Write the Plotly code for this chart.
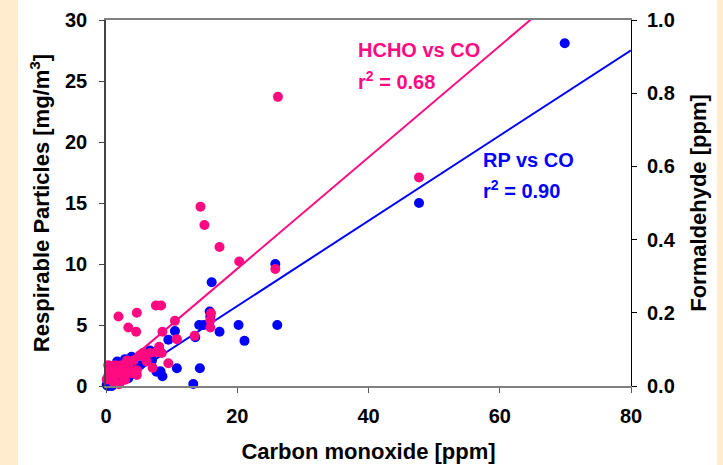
import plotly.graph_objects as go

# Carbon monoxide [ppm] vs respirable particles [mg/m3] (left axis)
rp_co = [0.1, 0.3, 0.6, 0.9, 1.1, 1.4, 1.9, 2.2, 2.6, 2.9, 3.4, 3.7, 3.9, 4.6, 5.2,
         5.6, 6.7, 7.0, 7.5, 7.7, 8.3, 8.6, 9.5, 10.5, 10.8, 13.3, 13.6, 14.2, 14.3,
         14.9, 15.8, 15.9, 16.1, 17.3, 20.2, 21.1, 25.8, 26.1, 47.7, 69.9,
         0.5, 1.5, 2.0, 1.7]
rp_val = [0.1, 0.0, 0.05, 0.0, 0.2, 0.55, 0.2, 1.9, 1.1, 2.2, 0.63, 0.9, 2.4, 1.37, 1.7,
          2.5, 2.9, 2.1, 2.8, 1.17, 1.2, 0.8, 3.8, 4.5, 1.45, 0.16, 4.0, 5.0, 1.45,
          5.0, 6.1, 5.7, 8.5, 4.45, 5.0, 3.7, 10.0, 5.0, 15.0, 28.1,
          0.3, 0.8, 1.3, 2.0]

# Carbon monoxide [ppm] vs formaldehyde [ppm] (right axis)
hcho_co = [1.9, 3.4, 4.6, 4.7, 7.6, 8.4, 10.5, 8.6, 10.8, 13.5, 16.0, 15.9, 15.9,
           20.3, 9.5, 7.1, 8.1, 7.7, 8.5, 6.7, 5.6, 5.1, 4.2, 3.2, 3.1, 1.4, 0.35,
           0.9, 0.35, 0.1, 1.6, 2.1, 2.9, 3.9, 4.7, 4.7, 2.9, 1.1, 2.0, 3.4, 2.4,
           6.2, 14.4, 15.0, 17.3, 25.8, 26.2, 47.7, 0.6, 1.2]
hcho_val = [0.190, 0.160, 0.148, 0.200, 0.220, 0.220, 0.178, 0.148, 0.128, 0.137,
            0.199, 0.180, 0.160, 0.340, 0.062, 0.050, 0.107, 0.093, 0.090, 0.090,
            0.090, 0.083, 0.070, 0.070, 0.048, 0.057, 0.057, 0.048, 0.027, 0.018,
            0.030, 0.039, 0.030, 0.035, 0.030, 0.043, 0.017, 0.012, 0.005, 0.053,
            0.057, 0.067, 0.490, 0.440, 0.380, 0.320, 0.790, 0.570, 0.035, 0.025]

# Linear fits
rp_slope, rp_intercept, rp_r2 = 0.3495, -0.44, 0.90
hcho_slope, hcho_intercept, hcho_r2 = 0.01522, 0.016, 0.68
fit_x = [0, 80]

x_ticks = [0, 20, 40, 60, 80]
left_ticks = [0, 5, 10, 15, 20, 25, 30]
right_ticks = [0.0, 0.2, 0.4, 0.6, 0.8, 1.0]

BLUE = "#0000FF"
PINK = "#FF0A80"
FONT = "Liberation Sans, Arial, sans-serif"

fig = go.Figure()

fig.add_trace(go.Scatter(
    x=fit_x, y=[rp_intercept + rp_slope * v for v in fit_x],
    mode="lines", line=dict(color=BLUE, width=2), yaxis="y", showlegend=False))
fig.add_trace(go.Scatter(
    x=rp_co, y=rp_val, mode="markers", cliponaxis=False,
    marker=dict(color=BLUE, size=10, line=dict(width=0)), yaxis="y", showlegend=False))
fig.add_trace(go.Scatter(
    x=fit_x, y=[hcho_intercept + hcho_slope * v for v in fit_x],
    mode="lines", line=dict(color=PINK, width=2), yaxis="y2", showlegend=False))
fig.add_trace(go.Scatter(
    x=hcho_co, y=hcho_val, mode="markers", cliponaxis=False,
    marker=dict(color=PINK, size=10, line=dict(width=0)), yaxis="y2", showlegend=False))

tick_font = dict(family=FONT, size=20, color="#000000", weight="bold")
title_font = dict(family=FONT, size=22, color="#000000", weight="bold")
note_font = dict(family=FONT, size=20, weight="bold")

fig.update_layout(
    width=723, height=465,
    margin=dict(l=106, r=92, t=20, b=79),
    paper_bgcolor="#FFFFFF", plot_bgcolor="#FFFFFF",
    font=dict(family=FONT),
    xaxis=dict(
        range=[0, 80], tickvals=x_ticks, ticks="outside", ticklen=5, tickwidth=1,
        tickcolor="#555555", showline=True, linecolor="#808080", linewidth=2,
        mirror=True, showgrid=False, zeroline=False, tickfont=tick_font,
        ticklabelstandoff=6, automargin=False,
        title=dict(text="Carbon monoxide [ppm]", font=title_font, standoff=18)),
    yaxis=dict(
        range=[0, 30], tickvals=left_ticks, ticks="outside", ticklen=5, tickwidth=1,
        tickcolor="#444444", showline=True, linecolor="#444444", linewidth=1.5,
        showgrid=False, zeroline=False, tickfont=tick_font, ticklabelstandoff=8,
        automargin=False,
        title=dict(text="Respirable Particles [mg/m<sup>3</sup>]", font=title_font, standoff=9)),
    yaxis2=dict(
        range=[0, 1.0], tickvals=right_ticks, ticktext=[f"{v:.1f}" for v in right_ticks],
        overlaying="y", side="right", ticks="outside", ticklen=5, tickwidth=1,
        tickcolor="#000000", showline=True, linecolor="#000000", linewidth=1,
        showgrid=False, zeroline=False, tickfont=tick_font, ticklabelstandoff=6,
        automargin=False,
        title=dict(text="Formaldehyde [ppm]", font=title_font, standoff=15)),
    shapes=[
        dict(type="rect", xref="paper", yref="paper", x0=-0.21, x1=-0.1676,
             y0=-0.3, y1=1.2, fillcolor="#FFEBCD", line=dict(width=0), layer="below"),
        dict(type="rect", xref="paper", yref="paper", x0=1.1638, x1=1.2,
             y0=-0.3, y1=1.2, fillcolor="#FFEBCD", line=dict(width=0), layer="below"),
    ],
    annotations=[
        dict(x=38.1, y=0.918, xref="x", yref="y2", xanchor="left", yanchor="middle",
             text="HCHO vs CO", showarrow=False, font=dict(note_font, color=PINK)),
        dict(x=38.1, y=0.836, xref="x", yref="y2", xanchor="left", yanchor="middle",
             text=f"r<sup>2</sup> = {hcho_r2:.2f}", showarrow=False,
             font=dict(note_font, color=PINK)),
        dict(x=57.2, y=0.617, xref="x", yref="y2", xanchor="left", yanchor="middle",
             text="RP vs CO", showarrow=False, font=dict(note_font, color=BLUE)),
        dict(x=57.2, y=0.536, xref="x", yref="y2", xanchor="left", yanchor="middle",
             text=f"r<sup>2</sup> = {rp_r2:.2f}", showarrow=False,
             font=dict(note_font, color=BLUE)),
    ],
)

fig.write_html("out.html")
